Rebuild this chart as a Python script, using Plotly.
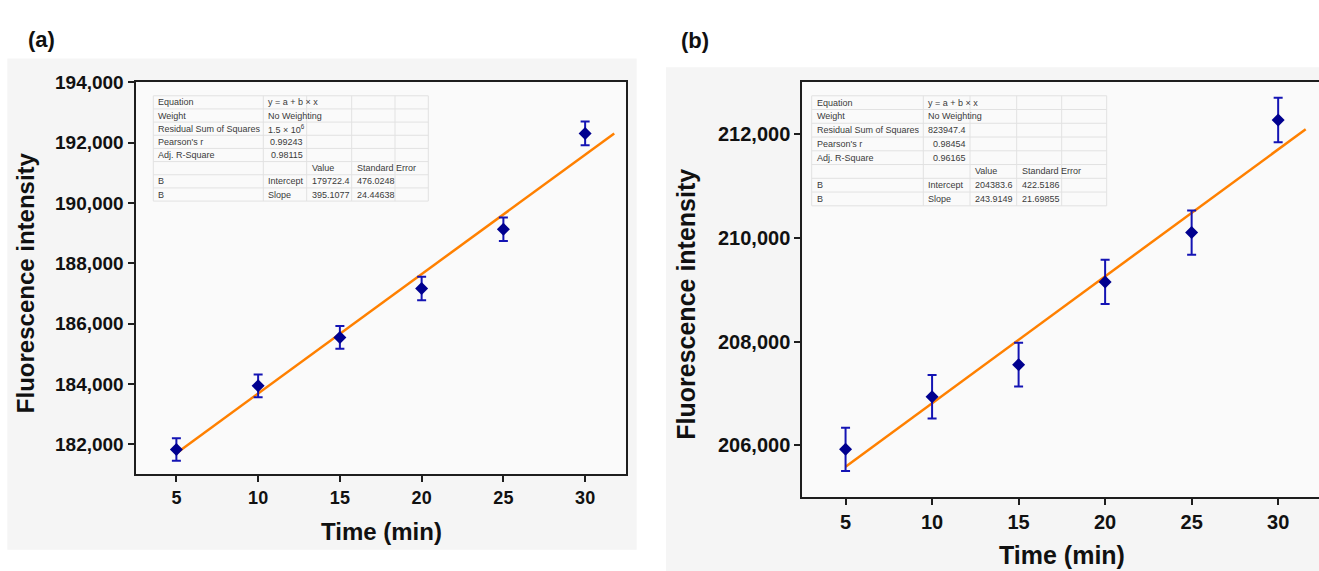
import plotly.graph_objects as go

W, H = 1319, 571

# ---------------- data ----------------
time_min = [5, 10, 15, 20, 25, 30]
x_ticks = [5, 10, 15, 20, 25, 30]

fluor_a = [181827, 183935, 185542, 187163, 189124, 192304]
err_a = [375, 375, 380, 390, 390, 395]
fit_x_a = [5, 31.78]
fit_y_a = [181705, 192300]

fluor_b = [205924, 206937, 207556, 209150, 210099, 212269]
err_b = [415, 420, 420, 425, 425, 430]
fit_x_b = [5, 31.59]
fit_y_b = [205590, 212090]

table_a = [
    ["Equation", "y = a + b × x", "", "", ""],
    ["Weight", "No Weighting", "", "", ""],
    ["Residual Sum of Squares", "1.5 × 10<sup>6</sup>", "", "", ""],
    ["Pearson's r", "0.99243", "", "", ""],
    ["Adj. R-Square", "0.98115", "", "", ""],
    ["", "", "Value", "Standard Error", ""],
    ["B", "Intercept", "179722.4", "476.0248", ""],
    ["B", "Slope", "395.1077", "24.44638", ""],
]
table_b = [
    ["Equation", "y = a + b × x", "", "", ""],
    ["Weight", "No Weighting", "", "", ""],
    ["Residual Sum of Squares", "823947.4", "", "", ""],
    ["Pearson's r", "0.98454", "", "", ""],
    ["Adj. R-Square", "0.96165", "", "", ""],
    ["", "", "Value", "Standard Error", ""],
    ["B", "Intercept", "204383.6", "422.5186", ""],
    ["B", "Slope", "243.9149", "21.69855", ""],
]
right_aligned_cells = [(3, 1), (4, 1)]

y_title = "Fluorescence intensity"
x_title = "Time (min)"
panel_labels = ["(a)", "(b)"]

# ---------------- style ----------------
FONT = "Liberation Sans, Arial, sans-serif"
MARKER_COLOR = "#00008f"
ERR_COLOR = "#1414b4"
FIT_COLOR = "#ff8000"
AXIS_COLOR = "#1e1e1e"
PANEL_BG = "#f5f5f5"
PLOT_BG = "#fafafa"
GRID_COLOR = "#e2e2e2"
TABLE_TEXT = "#3a3a3a"


def fx(px):
    return px / W


def fy(py):
    return 1 - py / H


fig = go.Figure()

fig.add_trace(go.Scatter(x=fit_x_a, y=fit_y_a, mode="lines",
                         line=dict(color=FIT_COLOR, width=2.5),
                         xaxis="x", yaxis="y", showlegend=False, hoverinfo="skip"))
fig.add_trace(go.Scatter(x=time_min, y=fluor_a, mode="markers",
                         marker=dict(symbol="diamond", size=10, color=MARKER_COLOR),
                         error_y=dict(type="data", array=err_a, color=ERR_COLOR,
                                      thickness=2, width=4.5),
                         xaxis="x", yaxis="y", showlegend=False))
fig.add_trace(go.Scatter(x=fit_x_b, y=fit_y_b, mode="lines",
                         line=dict(color=FIT_COLOR, width=2.5),
                         xaxis="x2", yaxis="y2", showlegend=False, hoverinfo="skip"))
fig.add_trace(go.Scatter(x=time_min, y=fluor_b, mode="markers",
                         marker=dict(symbol="diamond", size=10, color=MARKER_COLOR),
                         error_y=dict(type="data", array=err_b, color=ERR_COLOR,
                                      thickness=2, width=4.5),
                         xaxis="x2", yaxis="y2", showlegend=False))

A = dict(l=135.5, r=626.0, t=73.5, b=472.7)
B = dict(l=802.3, r=1319.0, t=73.3, b=496.0)

axis_common = dict(showline=True, linecolor=AXIS_COLOR, linewidth=2,
                   ticks="outside", ticklen=6, tickwidth=2, tickcolor=AXIS_COLOR,
                   showgrid=False, zeroline=False)

fig.update_layout(
    width=W, height=H,
    margin=dict(l=0, r=0, t=0, b=0),
    paper_bgcolor="white",
    plot_bgcolor="rgba(0,0,0,0)",
    showlegend=False,
    xaxis=dict(domain=[fx(A["l"]), fx(A["r"])], range=[2.5, 32.5],
               tickvals=x_ticks, mirror=True, anchor="y",
               tickfont=dict(family=FONT, size=18, color="#111", weight="bold"),
               **axis_common),
    yaxis=dict(domain=[fy(A["b"]), fy(A["t"])], range=[181000, 194000],
               tick0=182000, dtick=2000, tickformat=",d", mirror=True, anchor="x",
               tickfont=dict(family=FONT, size=19, color="#111", weight="bold"),
               **axis_common),
    xaxis2=dict(domain=[fx(B["l"]), 1.0], range=[2.5, 32.36],
                tickvals=x_ticks, mirror=True, anchor="y2",
                tickfont=dict(family=FONT, size=20, color="#111", weight="bold"),
                **axis_common),
    yaxis2=dict(domain=[fy(B["b"]), fy(B["t"])], range=[205000, 213000],
                tick0=206000, dtick=2000, tickformat=",d", mirror=False, anchor="x2",
                tickfont=dict(family=FONT, size=20, color="#111", weight="bold"),
                **axis_common),
)

shapes = []
shapes.append(dict(type="rect", xref="paper", yref="paper", layer="below",
                   x0=fx(7.3), x1=fx(636.7), y0=fy(549.3), y1=fy(49.3),
                   fillcolor=PANEL_BG, line=dict(width=0)))
shapes.append(dict(type="rect", xref="paper", yref="paper", layer="below",
                   x0=fx(666), x1=1.0, y0=0.0, y1=fy(58.3),
                   fillcolor=PANEL_BG, line=dict(width=0)))
for P in (A, B):
    shapes.append(dict(type="rect", xref="paper", yref="paper", layer="below",
                       x0=fx(P["l"]), x1=fx(P["r"]), y0=fy(P["b"]), y1=fy(P["t"]),
                       fillcolor=PLOT_BG, line=dict(width=0)))

annotations = []


def draw_table(rows, cols_px, top_px, row_h):
    n = len(rows)
    bottom_px = top_px + n * row_h
    for i in range(n + 1):
        yy = top_px + i * row_h
        shapes.append(dict(type="line", xref="paper", yref="paper", layer="below",
                           x0=fx(cols_px[0]), x1=fx(cols_px[-1]), y0=fy(yy), y1=fy(yy),
                           line=dict(color=GRID_COLOR, width=1)))
    for c in cols_px:
        shapes.append(dict(type="line", xref="paper", yref="paper", layer="below",
                           x0=fx(c), x1=fx(c), y0=fy(top_px), y1=fy(bottom_px),
                           line=dict(color=GRID_COLOR, width=1)))
    for i, row in enumerate(rows):
        yc = top_px + (i + 0.5) * row_h
        for j, txt in enumerate(row):
            if not txt:
                continue
            if (i, j) in right_aligned_cells:
                xpos, anchor = cols_px[j + 1] - 2, "right"
            else:
                xpos, anchor = cols_px[j] + 3, "left"
            annotations.append(dict(x=fx(xpos), y=fy(yc), xref="paper", yref="paper",
                                    text=txt, showarrow=False, xanchor=anchor,
                                    yanchor="middle",
                                    font=dict(family=FONT, size=9, color=TABLE_TEXT)))


draw_table(table_a, [153.3, 263.3, 306.7, 351.7, 395.0, 428.3], 87.3, 13.4)
draw_table(table_b, [811.7, 923.3, 970.0, 1016.7, 1061.7, 1106.7], 87.3, 14.0)

annotations += [
    dict(x=fx(25), y=fy(278), xref="paper", yref="paper", text=y_title,
         textangle=-90, showarrow=False, xanchor="center", yanchor="middle",
         font=dict(family=FONT, size=24, color="#111", weight="bold")),
    dict(x=fx(381.7), y=fy(531), xref="paper", yref="paper", text=x_title,
         showarrow=False, xanchor="center", yanchor="middle",
         font=dict(family=FONT, size=24, color="#111", weight="bold")),
    dict(x=fx(686), y=fy(300), xref="paper", yref="paper", text=y_title,
         textangle=-90, showarrow=False, xanchor="center", yanchor="middle",
         font=dict(family=FONT, size=25, color="#111", weight="bold")),
    dict(x=fx(1062), y=fy(555), xref="paper", yref="paper", text=x_title,
         showarrow=False, xanchor="center", yanchor="middle",
         font=dict(family=FONT, size=25, color="#111", weight="bold")),
    dict(x=fx(41), y=fy(30), xref="paper", yref="paper", text=panel_labels[0],
         showarrow=False, xanchor="center", yanchor="middle",
         font=dict(family=FONT, size=22, color="#111", weight="bold")),
    dict(x=fx(695), y=fy(31), xref="paper", yref="paper", text=panel_labels[1],
         showarrow=False, xanchor="center", yanchor="middle",
         font=dict(family=FONT, size=22, color="#111", weight="bold")),
]

fig.update_layout(shapes=shapes, annotations=annotations)

post_js = (
    "document.documentElement.style.margin='0';"
    "document.documentElement.style.padding='0';"
    "document.body.style.margin='0';"
    "document.body.style.padding='0';"
    "document.body.style.overflow='hidden';"
    "var gd=document.getElementById('{plot_id}');"
    "gd.style.position='absolute';gd.style.left='0px';gd.style.top='0px';"
)
fig.write_html("out.html", config={"displayModeBar": False}, post_script=post_js)
